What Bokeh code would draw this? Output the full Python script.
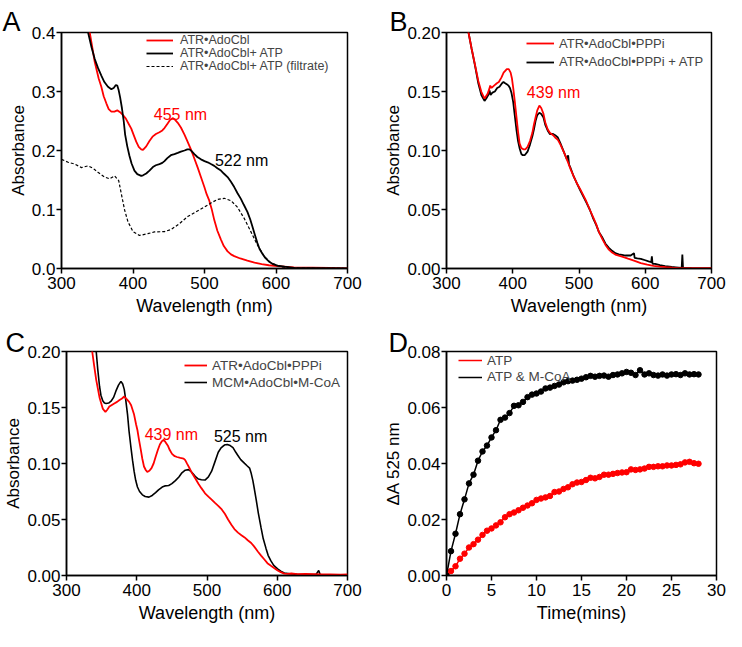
from bokeh.plotting import figure
from bokeh.layouts import column, row
from bokeh.models import Range1d, FixedTicker, PrintfTickFormatter, Legend, LegendItem, Label
from bokeh.embed import file_html
from bokeh.resources import INLINE

FONT = "Liberation Sans"
RED = "#ff0000"
BLACK = "#000000"

# ---------------- Panel A data ----------------
a_red_wl = [336, 339.5, 346.5, 352, 355.7, 359, 362.7, 366, 369.7, 374, 378, 382, 386, 390, 394, 397.6,
            401, 404.5, 408, 411.5, 414, 418.5, 423, 427.8, 432, 437, 441, 444, 448, 452, 455, 458,
            462.6, 467, 472, 476, 481, 485, 490.5, 495, 499.8, 503, 506.7, 510, 513.7, 518, 523, 527,
            532.3, 537, 541.6, 550, 560, 570, 580, 590, 602, 625, 650, 675, 700]
a_red_abs = [0.425, 0.400, 0.350, 0.322, 0.308, 0.292, 0.280, 0.270, 0.266, 0.266, 0.268, 0.265, 0.260,
             0.254, 0.245, 0.237, 0.226, 0.215, 0.206, 0.202, 0.201, 0.207, 0.216, 0.224, 0.228, 0.231,
             0.234, 0.238, 0.245, 0.252, 0.254, 0.253, 0.247, 0.239, 0.227, 0.216, 0.202, 0.189, 0.171,
             0.155, 0.138, 0.126, 0.115, 0.101, 0.082, 0.064, 0.049, 0.038, 0.029, 0.024, 0.021, 0.017,
             0.0134, 0.010, 0.0075, 0.0055, 0.004, 0.002, 0.0015, 0.001, 0.0]

a_blk_wl = [333, 337.2, 342, 346.5, 351, 355.7, 360, 365, 369.7, 373, 376, 378, 380, 382, 384.5, 387,
            389, 392, 395, 398, 402, 406, 411.5, 414, 418.5, 423, 427.8, 432, 437, 441, 444, 448, 453,
            458, 462.6, 467, 472, 476, 479, 482, 485.8, 490, 495, 500, 504.4, 509, 513.7, 518, 523,
            527, 532.3, 537, 541.6, 546, 550.9, 555, 560, 564, 567, 570, 574, 577, 581, 585, 590, 595,
            602, 612, 625, 650, 700]
a_blk_abs = [0.420, 0.400, 0.375, 0.355, 0.340, 0.327, 0.316, 0.308, 0.304, 0.306, 0.311, 0.310, 0.302,
             0.290, 0.272, 0.250, 0.227, 0.207, 0.191, 0.178, 0.166, 0.160, 0.157, 0.158, 0.161, 0.166,
             0.172, 0.175, 0.177, 0.179, 0.182, 0.187, 0.192, 0.194, 0.196, 0.198, 0.200, 0.202, 0.202,
             0.199, 0.194, 0.189, 0.185, 0.182, 0.180, 0.177, 0.174, 0.170, 0.166, 0.161, 0.155, 0.147,
             0.138, 0.128, 0.118, 0.108, 0.096, 0.083, 0.071, 0.059, 0.043, 0.033, 0.025, 0.018, 0.012,
             0.008, 0.005, 0.003, 0.001, 0.0008, 0.0]

a_fil_wl = [300, 309.3, 318.6, 327.9, 337.2, 344, 351, 360.4, 367.4, 374.3, 380, 383.6, 388.3, 393,
            400, 409, 420.8, 430, 444, 453.3, 465, 476.5, 488, 499.8, 509, 518, 527.6, 537, 546,
            555.5, 564.8, 574, 583.4, 592.7, 606.6, 625, 650, 700]
a_fil_abs = [0.185, 0.180, 0.177, 0.171, 0.174, 0.170, 0.163, 0.155, 0.152, 0.157, 0.149, 0.127, 0.099,
             0.079, 0.0625, 0.056, 0.059, 0.062, 0.0625, 0.066, 0.076, 0.088, 0.096, 0.104, 0.111,
             0.117, 0.119, 0.115, 0.104, 0.085, 0.0625, 0.040, 0.021, 0.0095, 0.003, 0.001, 0.0005, 0.0]

# ---------------- Panel B data ----------------
b_red_wl = [330, 333.2, 338, 343, 348, 352.6, 357.4, 362, 364.5, 366, 368, 371.8, 376, 379, 383, 386.2,
            391, 394, 396.8, 398.8, 400.7, 403, 405.5, 408, 410.3, 413, 416.1, 419, 422.3, 426, 429.6,
            432, 434.4, 437, 440.2, 443, 446.4, 449, 452.7, 456, 460.9, 464, 468.1, 472, 477.7, 482,
            487.4, 492, 497, 502, 506.6, 511, 516.2, 521, 525.9, 530, 535.5, 540, 545.1, 550, 554.8,
            565, 574, 584, 593.3, 603, 612.5, 622, 631.8, 641, 651, 675, 700]
b_red_abs = [0.209, 0.200, 0.186, 0.1727, 0.159, 0.1497, 0.144, 0.148, 0.152, 0.155, 0.153, 0.155,
             0.157, 0.158, 0.162, 0.166, 0.169, 0.169, 0.166, 0.161, 0.153, 0.142, 0.129, 0.116, 0.106,
             0.102, 0.101, 0.101, 0.103, 0.108, 0.115, 0.122, 0.128, 0.134, 0.138, 0.136, 0.131, 0.124,
             0.118, 0.115, 0.113, 0.111, 0.109, 0.105, 0.098, 0.092, 0.084, 0.078, 0.072, 0.067, 0.062,
             0.057, 0.050, 0.044, 0.0376, 0.031, 0.0247, 0.020, 0.016, 0.0135, 0.0118, 0.010, 0.0083,
             0.0065, 0.0046, 0.0033, 0.0023, 0.0016, 0.0011, 0.0007, 0.0003, 0.0002, 0.0003]

b_blk_wl = [330, 333.2, 338, 343, 348, 352.6, 357.4, 360, 363, 365, 366.5, 369.3, 373, 376.5, 380,
            383.8, 386, 388.6, 391.5, 393.5, 395.8, 398, 400.7, 403, 405.5, 408, 410.3, 413, 415.1,
            418, 422.3, 426, 429.6, 432, 434.4, 437, 440.2, 443, 446.4, 449, 452.7, 456, 460.9, 464,
            468.1, 472, 477.7, 482, 483.6, 485, 487.4, 492, 497, 502, 506.6, 511, 516.2, 521, 525.9,
            530, 535.5, 540, 545.1, 550, 554.8, 560, 565, 570, 574, 578, 583, 584, 588, 593.3, 600,
            605, 609, 610, 611, 615, 622, 630, 640, 646, 655, 656, 657, 670, 700]
b_blk_abs = [0.209, 0.200, 0.186, 0.172, 0.157, 0.147, 0.142, 0.144, 0.147, 0.151, 0.147, 0.149, 0.150,
             0.153, 0.154, 0.157, 0.158, 0.157, 0.156, 0.155, 0.153, 0.149, 0.141, 0.130, 0.118, 0.108,
             0.102, 0.097, 0.096, 0.096, 0.099, 0.105, 0.112, 0.118, 0.125, 0.130, 0.132, 0.131, 0.128,
             0.122, 0.117, 0.114, 0.114, 0.113, 0.111, 0.106, 0.098, 0.092, 0.096, 0.088, 0.085, 0.078,
             0.072, 0.066, 0.061, 0.056, 0.050, 0.043, 0.037, 0.031, 0.026, 0.021, 0.0175, 0.015,
             0.013, 0.012, 0.0115, 0.011, 0.0112, 0.011, 0.013, 0.009, 0.0085, 0.0082, 0.007, 0.006,
             0.0055, 0.0103, 0.004, 0.004, 0.0029, 0.002, 0.0013, 0.001, 0.0005, 0.0118, 0.0005,
             0.0002, 0.0]

# ---------------- Panel C data ----------------
c_red_wl = [334, 336.6, 339, 342.3, 347, 351.6, 355.4, 358, 361, 364, 368, 372, 375, 379, 382.2, 385,
            389.2, 392, 396.2, 399, 401, 403, 405.6, 408, 410.3, 413, 415, 418, 421, 424, 426.8, 430,
            432.9, 436, 438.5, 441, 444.6, 447, 450.2, 454, 457.3, 462, 466.7, 469, 471.4, 475, 478.4,
            483, 487.8, 492, 497.2, 502, 506.6, 511, 516, 521, 525.4, 530, 534.7, 539, 544.1, 549,
            553.5, 558, 562.9, 567, 572.3, 577, 581.7, 586, 591, 596, 600.5, 605, 609.9, 615, 620,
            628.6, 640, 652, 665, 675.6, 690, 700]
c_red_abs = [0.211, 0.200, 0.189, 0.1747, 0.159, 0.149, 0.146, 0.148, 0.1508, 0.152, 0.1536, 0.155,
             0.1564, 0.158, 0.1598, 0.158, 0.155, 0.152, 0.1437, 0.135, 0.1297, 0.122, 0.1128, 0.104,
             0.0973, 0.094, 0.0925, 0.0935, 0.0959, 0.100, 0.1058, 0.112, 0.117, 0.120, 0.1212, 0.119,
             0.1156, 0.112, 0.1086, 0.1065, 0.1058, 0.105, 0.1044, 0.103, 0.1001, 0.096, 0.0917, 0.087,
             0.0819, 0.078, 0.0734, 0.0705, 0.0678, 0.065, 0.0622, 0.059, 0.0551, 0.050, 0.0453,
             0.0415, 0.0383, 0.036, 0.034, 0.0315, 0.029, 0.026, 0.0214, 0.0178, 0.0143, 0.011,
             0.0087, 0.0065, 0.0045, 0.003, 0.0017, 0.0015, 0.0018, 0.0012, 0.0014, 0.0012, 0.0009,
             0.001, 0.0008, 0.001]

c_blk_wl = [340, 342.3, 344.5, 347, 349, 351.6, 354, 356.3, 360, 363.4, 367, 370.4, 374, 377.5, 380,
            382.2, 384.5, 386.9, 389, 391.5, 394, 396.2, 398.5, 401, 404, 408, 412, 417.4, 422, 426.8,
            431, 436.2, 440, 445.5, 450, 455, 460, 464.3, 469, 473.7, 477, 480.8, 484, 487.8, 492,
            497.2, 502, 506.6, 511, 516, 520, 523, 526, 529, 533, 537, 541, 544, 548, 553.5, 557,
            560.6, 563, 565.3, 567.5, 570, 573, 577, 580, 584, 587, 591, 595, 600.5, 605, 610, 618,
            628.6, 640, 655, 659, 661, 680, 700]
c_blk_abs = [0.215, 0.200, 0.184, 0.169, 0.161, 0.156, 0.154, 0.1536, 0.154, 0.1556, 0.159, 0.1648,
             0.170, 0.1733, 0.171, 0.1662, 0.156, 0.1437, 0.129, 0.1156, 0.103, 0.0931, 0.085, 0.079,
             0.075, 0.072, 0.0705, 0.070, 0.0715, 0.074, 0.0765, 0.079, 0.080, 0.0804, 0.082, 0.0847,
             0.088, 0.0917, 0.094, 0.0945, 0.093, 0.0903, 0.088, 0.0861, 0.0855, 0.0852, 0.088,
             0.0931, 0.101, 0.110, 0.114, 0.1156, 0.1168, 0.117, 0.116, 0.1142, 0.110, 0.1072, 0.1035,
             0.1001, 0.098, 0.0959, 0.091, 0.0847, 0.077, 0.0678, 0.056, 0.0425, 0.033, 0.0242, 0.018,
             0.013, 0.009, 0.006, 0.0038, 0.0022, 0.0015, 0.001, 0.0008, 0.0008, 0.0045, 0.0008,
             0.0006, 0.0005]

# ---------------- Panel D data ----------------
d_time = [0, 0.5, 1, 1.5, 2, 2.5, 3, 3.5, 4, 4.5, 5, 5.5, 6, 6.5, 7, 7.5, 8, 8.5, 9, 9.5, 10, 10.5,
          11, 11.5, 12, 12.5, 13, 13.5, 14, 14.5, 15, 15.5, 16, 16.5, 17, 17.5, 18, 18.5, 19, 19.5,
          20, 20.5, 21, 21.5, 22, 22.5, 23, 23.5, 24, 24.5, 25, 25.5, 26, 26.5, 27, 27.5, 28]
d_atp_mcoa = [0.0, 0.0087, 0.0149, 0.0219, 0.0272, 0.0329, 0.036, 0.041, 0.0443, 0.0464, 0.0493,
              0.0519, 0.0556, 0.0564, 0.058, 0.0606, 0.0608, 0.062, 0.0637, 0.0646, 0.065, 0.0657,
              0.0668, 0.0671, 0.0677, 0.0682, 0.069, 0.0694, 0.0696, 0.0699, 0.0703, 0.0708, 0.0713,
              0.071, 0.0713, 0.0714, 0.071, 0.0716, 0.0718, 0.0722, 0.0727, 0.0724, 0.0716, 0.0733,
              0.0718, 0.0722, 0.0716, 0.0714, 0.0718, 0.0714, 0.0718, 0.0719, 0.0716, 0.0722, 0.0718,
              0.0719, 0.0718]
d_atp = [0.0, 0.0016, 0.0033, 0.006, 0.0078, 0.010, 0.0112, 0.0128, 0.0145, 0.016, 0.0168, 0.0179,
         0.019, 0.0208, 0.0219, 0.0225, 0.0233, 0.0242, 0.025, 0.0258, 0.027, 0.0275, 0.0279, 0.0284,
         0.0298, 0.030, 0.0309, 0.0315, 0.0326, 0.0332, 0.0334, 0.0341, 0.0349, 0.0347, 0.0352,
         0.036, 0.036, 0.0363, 0.0366, 0.0368, 0.0369, 0.0379, 0.0377, 0.0379, 0.0382, 0.0388,
         0.0388, 0.039, 0.039, 0.0393, 0.0393, 0.0395, 0.0397, 0.0404, 0.0406, 0.0401, 0.0399]

# ---------------- Tick settings ----------------
wl_ticks = [300, 400, 500, 600, 700]
a_yticks = [0.0, 0.1, 0.2, 0.3, 0.4]
bc_yticks = [0.0, 0.05, 0.10, 0.15, 0.20]
d_xticks = [0, 5, 10, 15, 20, 25, 30]
d_yticks = [0.0, 0.02, 0.04, 0.06, 0.08]


def make_fig(w, h, xr, yr, mb, xticks, yticks, xfmt, yfmt, xlabel, ylabel):
    p = figure(width=w, height=h, x_range=Range1d(*xr), y_range=Range1d(*yr),
               output_backend="svg", toolbar_location=None,
               min_border_left=mb[0], min_border_right=mb[1],
               min_border_top=mb[2], min_border_bottom=mb[3])
    p.grid.visible = False
    p.outline_line_color = "black"
    p.outline_line_width = 1.5
    p.outline_line_alpha = 1
    p.xaxis.ticker = FixedTicker(ticks=xticks)
    p.yaxis.ticker = FixedTicker(ticks=yticks)
    p.xaxis.formatter = PrintfTickFormatter(format=xfmt)
    p.yaxis.formatter = PrintfTickFormatter(format=yfmt)
    p.xaxis.axis_label = xlabel
    p.yaxis.axis_label = ylabel
    for ax in p.axis:
        ax.axis_line_width = 1.5
        ax.major_tick_line_width = 1.5
        ax.major_tick_out = 5
        ax.major_tick_in = 0
        ax.minor_tick_line_color = None
        ax.major_label_text_font = FONT
        ax.major_label_text_font_size = "17px"
        ax.major_label_text_color = "black"
        ax.axis_label_text_font = FONT
        ax.axis_label_text_font_style = "normal"
        ax.axis_label_text_color = "black"
    p.xaxis.axis_label_text_font_size = "18px"
    p.yaxis.axis_label_text_font_size = "17px"
    p.xaxis.major_label_standoff = 3
    p.xaxis.axis_label_standoff = 4
    p.yaxis.major_label_standoff = 1
    p.yaxis.axis_label_standoff = 1
    return p


def add_legend_rows(p, entries, vx, centers, glyph_w, standoff, fsize):
    """One single-row legend per entry; centers are offsets (px) below the frame top."""
    frame_h = p.height - p.min_border_top - p.min_border_bottom
    for (label, rend), c in zip(entries, centers):
        leg = Legend(items=[LegendItem(label=label, renderers=[rend])],
                     location=(vx, frame_h - c - 10), padding=0, margin=0, spacing=0,
                     glyph_width=glyph_w, glyph_height=20, label_height=20,
                     label_standoff=standoff, border_line_alpha=0, background_fill_alpha=0,
                     label_text_font=FONT, label_text_font_size=fsize)
        p.add_layout(leg)


def panel_letter(p, text, offset, standoff):
    p.title.text = text
    p.title.align = "left"
    p.title.offset = offset
    p.title.text_font = FONT
    p.title.text_font_size = "27px"
    p.title.text_font_style = "normal"
    p.title.text_color = "black"
    p.title.vertical_align = "top"
    try:
        p.title.standoff = standoff
    except Exception:
        p.title.standoff = 0


def note(p, text, x, y, color):
    p.add_layout(Label(x=x, y=y, text=text, text_font=FONT, text_font_size="16px",
                       text_baseline="alphabetic", text_align="left", text_color=color))


# Panel A  (x 0..362, y 0..324)
pA = make_fig(362, 324, (300, 700), (0, 0.4), (61, 15, 32, 56), wl_ticks, a_yticks, "%d", "%.1f",
              "Wavelength (nm)", "Absorbance")
rA1 = pA.line(a_red_wl, a_red_abs, line_color=RED, line_width=1.8)
rA2 = pA.line(a_blk_wl, a_blk_abs, line_color=BLACK, line_width=1.8)
rA3 = pA.line(a_fil_wl, a_fil_abs, line_color=BLACK, line_width=1.2, line_dash="3 2")
add_legend_rows(pA, [("ATR\u2022AdoCbl", rA1), ("ATR\u2022AdoCbl+ ATP", rA2),
                     ("ATR\u2022AdoCbl+ ATP (filtrate)", rA3)], 85, [8, 21, 34], 27, 7, "12.5px")
note(pA, "455 nm", 429, 0.2606, RED)
note(pA, "522 nm", 514.6, 0.1824, BLACK)
panel_letter(pA, "A", -59, -12)

# Panel B  (x 362..726, y 0..324)
pB = make_fig(364, 324, (300, 700), (0, 0.2), (84, 15, 32, 56), wl_ticks, bc_yticks, "%d", "%.2f",
              "Wavelength (nm)", "Absorbance")
rB2 = pB.line(b_blk_wl, b_blk_abs, line_color=BLACK, line_width=1.8)
rB1 = pB.line(b_red_wl, b_red_abs, line_color=RED, line_width=1.8)
add_legend_rows(pB, [("ATR\u2022AdoCbl\u2022PPPi", rB1), ("ATR\u2022AdoCbl\u2022PPPi + ATP", rB2)],
                80, [11.3, 29.7], 28, 5, "13px")
note(pB, "439 nm", 421.3, 0.149, RED)
panel_letter(pB, "B", -57, -12)

# Panel C  (x 0..362, y 324..631)
pC = make_fig(362, 307, (300, 700), (0, 0.2), (66, 15, 27, 56), wl_ticks, bc_yticks, "%d", "%.2f",
              "Wavelength (nm)", "Absorbance")
rC2 = pC.line(c_blk_wl, c_blk_abs, line_color=BLACK, line_width=1.6)
rC1 = pC.line(c_red_wl, c_red_abs, line_color=RED, line_width=1.8)
add_legend_rows(pC, [("ATR\u2022AdoCbl\u2022PPPi", rC1), ("MCM\u2022AdoCbl\u2022M-CoA", rC2)],
                118, [14, 31], 23, 5, "13.5px")
note(pC, "439 nm", 411.3, 0.1263, RED)
note(pC, "525 nm", 509.9, 0.124, BLACK)
panel_letter(pC, "C", -61, -17)

# Panel D  (x 362..726, y 324..631)
pD = make_fig(364, 307, (0, 30), (0, 0.08), (84, 10, 27, 56), d_xticks, d_yticks, "%d", "%.2f",
              "Time(mins)", "\u0394A 525 nm")
rD1 = pD.line(d_time, d_atp, line_color=RED, line_width=1.5)
pD.scatter(d_time, d_atp, size=5.5, color=RED)
rD2 = pD.line(d_time, d_atp_mcoa, line_color=BLACK, line_width=1.5)
pD.scatter(d_time, d_atp_mcoa, size=5.5, color=BLACK)
add_legend_rows(pD, [("ATP", rD1), ("ATP & M-CoA", rD2)], 12, [9, 25.7], 24, 5, "13.5px")
panel_letter(pD, "D", -58, -17)

layout = column(row(pA, pB), row(pC, pD))
open("out.html", "w").write(file_html(layout, INLINE))
